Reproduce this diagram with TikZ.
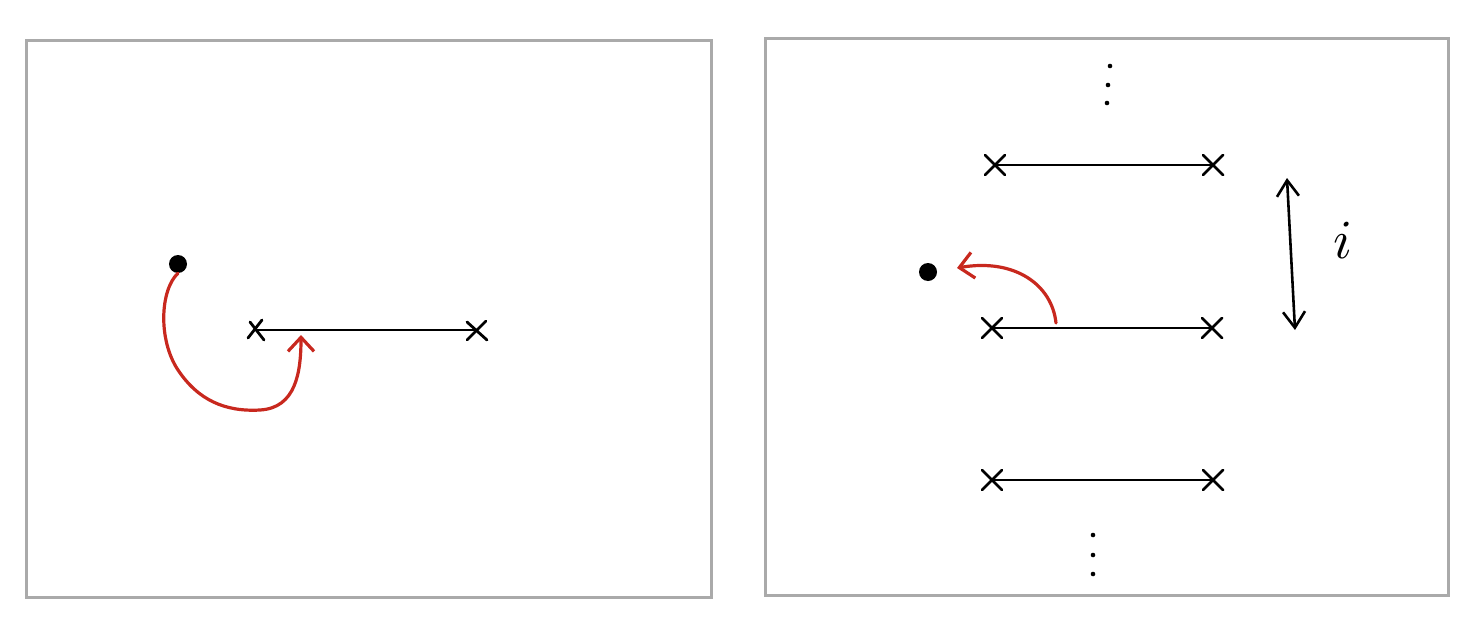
\documentclass[tikz,border=0pt]{standalone}
\usetikzlibrary{arrows.meta}
\definecolor{framegray}{HTML}{AAAAAA}
\definecolor{sketchred}{HTML}{C8281E}
\begin{document}
\begin{tikzpicture}[x=1pt,y=-1pt,
  frame/.style={draw=framegray,line width=3pt},
  seg/.style={draw=black,line width=2.8pt},
  cross/.style={draw=black,line width=2.8pt,line cap=round},
  redarrow/.style={draw=sketchred,line width=3.2pt,line cap=round,-{Straight Barb[length=14pt,width=26pt,line width=3.2pt]}},
  dbl/.style={draw=black,line width=2.6pt,{Straight Barb[length=16pt,width=22pt,line width=2.6pt]}-{Straight Barb[length=16pt,width=22pt,line width=2.6pt]}},
  pt/.style={circle,fill=black,inner sep=0pt,minimum size=#1},
  pt/.default=18pt
]
\useasboundingbox (0,0) rectangle (1476,624);
% frames
\draw[frame] (26,40) rectangle (711,597);
\draw[frame] (765,38) rectangle (1448,595);

% ---- left panel
\node[pt] (dotL) at (178,264) {};
\coordinate (aL) at (256,330);
\coordinate (bL) at (477,330);
\draw[seg] (aL) -- (bL);
\draw[cross] (248,338) -- (262,320); \draw[cross] (250,322) -- (264,340);
\draw[cross] (467,322) -- (487,340); \draw[cross] (467,340) -- (486,321);
\coordinate (tipL) at (301,335);
\draw[redarrow] (dotL.south) .. controls (160,290) and (158,340) .. (178,370)
   .. controls (198,400) and (225,412) .. (260,410)
   .. controls (296,408) and (301,372) .. (tipL);

% ---- right panel
\coordinate (a1) at (995,165); \coordinate (b1) at (1213,165);
\coordinate (a2) at (992,328); \coordinate (b2) at (1212,328);
\coordinate (a3) at (992,480); \coordinate (b3) at (1213,480);
\draw[seg] (a1) -- (b1);
\draw[seg] (a2) -- (b2);
\draw[seg] (a3) -- (b3);
\foreach \p in {a1,b1,a2,b2,a3,b3}{
  \draw[cross] ([shift={(-10,-10)}]\p) -- ([shift={(10,10)}]\p);
  \draw[cross] ([shift={(-10,10)}]\p) -- ([shift={(10,-10)}]\p);
}
% dots
\foreach \x/\y in {1110/66,1108/85,1107/103,1093/535,1093/555,1093/574}{
  \fill (\x,\y) circle (2.3pt);
}
\node[pt] (dotR) at (928,272) {};
\coordinate (startR) at (1056,323);
\coordinate (tipR) at (957,268);
\draw[redarrow] (startR) .. controls (1052,285) and (1015,258) .. (tipR);
\coordinate (up) at (1287,178);
\coordinate (down) at (1295,330);
\draw[dbl] (up) -- (down);
\node[scale=5.5] (ilab) at (1343,240) {$i$};
\end{tikzpicture}
\end{document}
